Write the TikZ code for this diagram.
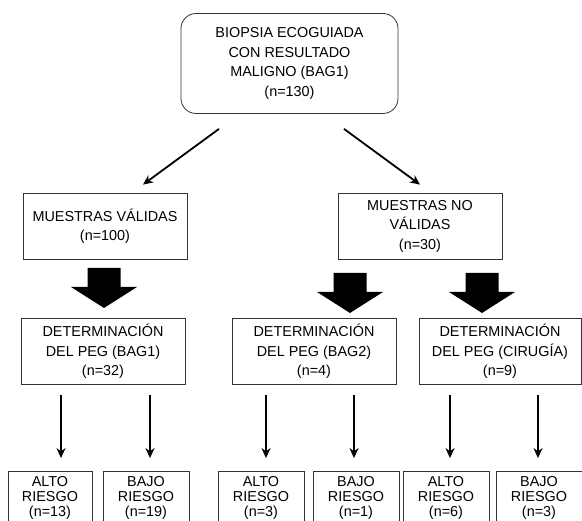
\documentclass[tikz,border=0pt]{standalone}
\usepackage{fontspec}
\setmainfont{Liberation Sans}
\usetikzlibrary{arrows.meta}
\begin{document}
\begin{tikzpicture}[x=1pt,y=-1pt,
	caja/.style={draw=black!80, line width=0.8pt, inner sep=0pt, align=center, minimum width=164pt, minimum height=66pt, font=\fontsize{14.4}{19.5}\selectfont},
	riesgo/.style={caja, minimum width=86pt, minimum height=52pt, font=\fontsize{14.4}{15}\selectfont},
	fina/.style={-{Stealth[length=10pt,width=9pt]}, line width=1.8pt},
	gorda/.pic={\fill (-16.5,0) -- (16.5,0) -- (16.5,19) -- (33,19) -- (0,40) -- (-33,19) -- (-16.5,19) -- cycle;}]
		\useasboundingbox (0,0) rectangle (582,521);
		\clip (0,0) rectangle (582,521);
		
		\node[caja, rounded corners=15pt, minimum width=217pt, minimum height=100pt] (Biopsia) at (289.5,63.5) {BIOPSIA ECOGUIADA\\CON RESULTADO\\MALIGNO (BAG1)\\(n=130)};
		
		\node[caja] (Validas) at (105,226) {MUESTRAS VÁLIDAS\\(n=100)};
		\node[caja] (NoValidas) at (420,226) {MUESTRAS NO\\VÁLIDAS\\(n=30)};
		
		\node[caja] (PEG1) at (103,351.5) {DETERMINACIÓN\\DEL PEG (BAG1)\\(n=32)};
		\node[caja] (PEG2) at (314,351.5) {DETERMINACIÓN\\DEL PEG (BAG2)\\(n=4)};
		\node[caja, minimum width=162pt] (PEG3) at (500,351.5) {DETERMINACIÓN\\DEL PEG (CIRUGÍA)\\(n=9)};
		
		\node[riesgo, minimum width=84pt] (Alto1) at (50,497.5) {ALTO\\RIESGO\\(n=13)};
		\node[riesgo] (Bajo1) at (146,497.5) {BAJO\\RIESGO\\(n=19)};
		\node[riesgo] (Alto2) at (261,497.5) {ALTO\\RIESGO\\(n=3)};
		\node[riesgo] (Bajo2) at (356,497.5) {BAJO\\RIESGO\\(n=1)};
		\node[riesgo] (Alto3) at (446,497.5) {ALTO\\RIESGO\\(n=6)};
		\node[riesgo] (Bajo3) at (539,497.5) {BAJO\\RIESGO\\(n=3)};
		
		\draw[fina] ([shift={(-70.5,15)}]Biopsia.south) -- ([shift={(38,-8)}]Validas.north);
		\draw[fina] ([shift={(54.5,15)}]Biopsia.south) -- ([shift={(0,-8)}]NoValidas.north);
		
		\pic at (104,268) {gorda};
		\pic at (350,273) {gorda};
		\pic at (482,273) {gorda};
		
		\coordinate (f1) at (61,0);
		\coordinate (f2) at (150,0);
		\coordinate (f3) at (266,0);
		\coordinate (f4) at (354,0);
		\coordinate (f5) at (450,0);
		\coordinate (f6) at (538,0);
		\draw[fina, shorten <=10pt, shorten >=13pt] (PEG1.south -| f1) -- (Alto1.north -| f1);
		\draw[fina, shorten <=10pt, shorten >=13pt] (PEG1.south -| f2) -- (Bajo1.north -| f2);
		\draw[fina, shorten <=10pt, shorten >=13pt] (PEG2.south -| f3) -- (Alto2.north -| f3);
		\draw[fina, shorten <=10pt, shorten >=13pt] (PEG2.south -| f4) -- (Bajo2.north -| f4);
		\draw[fina, shorten <=10pt, shorten >=13pt] (PEG3.south -| f5) -- (Alto3.north -| f5);
		\draw[fina, shorten <=10pt, shorten >=13pt] (PEG3.south -| f6) -- (Bajo3.north -| f6);
		%\draw[fina] (Validas) -- (PEG1);
		\end{tikzpicture}
\end{document}
